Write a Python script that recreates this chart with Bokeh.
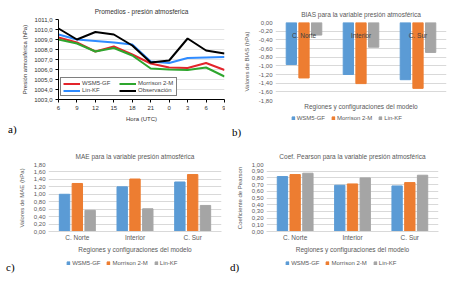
from bokeh.plotting import figure
from bokeh.models import (FactorRange, Range1d, FixedTicker, Legend, LegendItem,
                          ColumnDataSource, CategoricalAxis, Div, Spacer)
from bokeh.transform import dodge
from bokeh.layouts import column, row
from bokeh.embed import file_html
from bokeh.resources import INLINE

# ---------------- data ----------------
hours = ["6", "9", "12", "15", "18", "21", "0", "3", "6", "9"]
wsm5_gf = [1009.2, 1008.7, 1007.8, 1008.3, 1007.5, 1006.6, 1006.2, 1006.15, 1006.65, 1005.95]
morrison_2m = [1009.0, 1008.6, 1007.8, 1008.15, 1007.4, 1006.1, 1006.0, 1005.95, 1006.2, 1005.3]
lin_kf = [1009.5, 1009.0, 1008.85, 1008.7, 1008.5, 1006.8, 1006.65, 1007.15, 1007.2, 1007.25]
observacion = [1010.1, 1009.0, 1009.75, 1009.5, 1008.4, 1006.7, 1006.9, 1009.1, 1007.9, 1007.6]
press_ticks = [1003, 1004, 1005, 1006, 1007, 1008, 1009, 1010, 1011]

regions = ["C. Norte", "Interior", "C. Sur"]
bias_wsm5 = [-0.97, -1.20, -1.32]
bias_morr = [-1.28, -1.41, -1.52]
bias_lin = [-0.29, -0.57, -0.69]
mae_wsm5 = [1.00, 1.20, 1.33]
mae_morr = [1.29, 1.41, 1.53]
mae_lin = [0.57, 0.61, 0.70]
pear_wsm5 = [0.82, 0.69, 0.68]
pear_morr = [0.85, 0.71, 0.73]
pear_lin = [0.87, 0.80, 0.84]

bias_ticks = [0.0, -0.2, -0.4, -0.6, -0.8, -1.0, -1.2, -1.4, -1.6, -1.8]
mae_ticks = [0.0, 0.2, 0.4, 0.6, 0.8, 1.0, 1.2, 1.4, 1.6, 1.8]
pear_ticks = [0.0, 0.1, 0.2, 0.3, 0.4, 0.5, 0.6, 0.7, 0.8, 0.9, 1.0]

series_names = ["WSM5-GF", "Morrison 2-M", "Lin-KF", "Observación"]
xaxis_title = "Regiones y configuraciones del modelo"

# ---------------- style ----------------
FONT = "Liberation Sans"
SERIF = "Liberation Serif"
TXT = "#595959"
GRID = "#D9D9D9"
C_BLUE = "#5B9BD5"
C_ORANGE = "#ED7D31"
C_GRAY = "#A5A5A5"
BAR_W = 0.18
DODGE = 0.222


def fmt(v, d):
    return f"{v:.{d}f}".replace(".", ",")


def letter_div(text, width, height, pad_left, pad_top):
    return Div(text=text, width=width, height=height, margin=(0, 0, 0, 0),
               styles={"font-family": SERIF, "font-size": "11px",
                       "line-height": "11px", "padding-left": f"{pad_left}px",
                       "padding-top": f"{pad_top}px", "color": "#000000"})


def add_bars(p, v1, v2, v3):
    src = ColumnDataSource(dict(reg=regions, a=v1, b=v2, c=v3))
    r1 = p.vbar(x=dodge("reg", -DODGE, range=p.x_range), top="a", width=BAR_W,
                source=src, fill_color=C_BLUE, line_color=C_BLUE)
    r2 = p.vbar(x=dodge("reg", 0.0, range=p.x_range), top="b", width=BAR_W,
                source=src, fill_color=C_ORANGE, line_color=C_ORANGE)
    r3 = p.vbar(x=dodge("reg", DODGE, range=p.x_range), top="c", width=BAR_W,
                source=src, fill_color=C_GRAY, line_color=C_GRAY)
    return r1, r2, r3


def legend_fig(width, height, v1, v2, v3):
    # small strip that only shows the legend of the bar series
    f = figure(width=width, height=height, output_backend="svg",
               toolbar_location=None, x_range=FactorRange(factors=regions),
               y_range=Range1d(10, 11), x_axis_type=None, y_axis_type=None,
               min_border=0)
    f.outline_line_color = None
    rs = add_bars(f, v1, v2, v3)
    leg = Legend(items=[LegendItem(label=series_names[i], renderers=[rs[i]])
                        for i in range(3)],
                 orientation="horizontal", location="center",
                 label_text_font=FONT, label_text_font_size="6px",
                 label_text_color=TXT, glyph_width=4, glyph_height=4,
                 label_height=6, label_standoff=2, spacing=6, padding=1,
                 margin=0, border_line_color=None, background_fill_alpha=0)
    f.add_layout(leg, "center")
    return f


# ---------------- panel a ----------------
pa = figure(width=225, height=124, output_backend="svg", toolbar_location=None,
            x_range=Range1d(0, len(hours) - 1), y_range=Range1d(1003, 1011),
            min_border_left=58, min_border_right=1, min_border_top=16,
            min_border_bottom=22)
pa.title.text = "Promedios - presión atmosferica"
pa.title.text_font = FONT
pa.title.text_font_size = "6.5px"
pa.title.text_font_style = "normal"
pa.title.text_color = "#333333"
pa.title.align = "center"
pa.title.offset = -16
pa.outline_line_color = None
xs = list(range(len(hours)))
la = pa.line(xs, wsm5_gf, color="#E3242B", line_width=2)
lb = pa.line(xs, morrison_2m, color="#2EA62E", line_width=2)
lc = pa.line(xs, lin_kf, color="#2F8BFF", line_width=2)
ld = pa.line(xs, observacion, color="#000000", line_width=2)
pa.xaxis.ticker = FixedTicker(ticks=xs)
pa.xaxis.major_label_overrides = {i: h for i, h in enumerate(hours)}
pa.yaxis.ticker = FixedTicker(ticks=press_ticks)
pa.yaxis.major_label_overrides = {t: fmt(t, 1) for t in press_ticks}
pa.yaxis.axis_label = "Presión atmosférica (hPa)"
pa.xaxis.axis_label = "Hora (UTC)"
for ax in (pa.xaxis[0], pa.yaxis[0]):
    ax.major_label_text_font = FONT
    ax.major_label_text_font_size = "6px"
    ax.major_label_text_color = "#333333"
    ax.axis_label_text_font = FONT
    ax.axis_label_text_font_size = "6px"
    ax.axis_label_text_font_style = "normal"
    ax.axis_label_text_color = "#333333"
    ax.minor_tick_line_color = None
    ax.major_tick_out = 3
    ax.major_tick_in = 0
    ax.major_label_standoff = 3
    ax.axis_label_standoff = 3
pa.xgrid.grid_line_color = None
pa.ygrid.grid_line_color = "#E4E4E4"
leg_a = Legend(items=[LegendItem(label=series_names[0], renderers=[la]),
                      LegendItem(label=series_names[2], renderers=[lc]),
                      LegendItem(label=series_names[1], renderers=[lb]),
                      LegendItem(label=series_names[3], renderers=[ld])],
               ncols=2, location=(2, 3), label_text_font=FONT,
               label_text_font_size="6px", glyph_width=17, glyph_height=5,
               label_height=6, label_width=36, label_standoff=2, spacing=1,
               padding=2, margin=0, border_line_color="#000000",
               border_line_width=1)
pa.add_layout(leg_a, "center")


# ---------------- bar panels ----------------
def bar_panel(title, ylabel, v1, v2, v3, y0, y1, ticks, mbl, mbr, mbt, mbb,
              height, title_off, top_axis=False):
    p = figure(width=225, height=height, output_backend="svg",
               toolbar_location=None, x_range=FactorRange(factors=regions),
               y_range=Range1d(y0, y1), min_border_left=mbl,
               min_border_right=mbr, min_border_top=mbt, min_border_bottom=mbb)
    p.title.text = title
    p.title.text_font = FONT
    p.title.text_font_size = "6.5px"
    p.title.text_font_style = "normal"
    p.title.text_color = TXT
    p.title.align = "center"
    p.title.offset = title_off
    p.outline_line_color = None
    add_bars(p, v1, v2, v3)
    p.xgrid.grid_line_color = None
    p.ygrid.grid_line_color = GRID
    p.yaxis.ticker = FixedTicker(ticks=ticks)
    p.yaxis.major_label_overrides = {t: fmt(t, 2) for t in ticks}
    p.yaxis.axis_label = ylabel
    p.yaxis.axis_line_color = None
    p.yaxis.axis_label_standoff = 6
    for ax in (p.xaxis[0], p.yaxis[0]):
        ax.major_label_text_font = FONT
        ax.major_label_text_font_size = "6px"
        ax.major_label_text_color = TXT
        ax.axis_label_text_font = FONT
        ax.axis_label_text_font_size = "6px"
        ax.axis_label_text_font_style = "normal"
        ax.axis_label_text_color = TXT
        ax.minor_tick_line_color = None
        ax.major_tick_line_color = None
        ax.major_tick_out = 0
        ax.major_label_standoff = 3
    p.xaxis.axis_label = xaxis_title
    p.xaxis.axis_label_text_font_size = "6.5px"
    p.xaxis.axis_label_standoff = 2
    if top_axis:
        main = p.xaxis[0]
        main.major_label_text_font_size = "0px"
        main.major_label_text_color = None
        main.major_label_standoff = 0
        main.axis_label_standoff = 2
        main.axis_line_color = None
        cat_ax = CategoricalAxis(fixed_location=0, axis_line_color=None,
                                 major_tick_line_color=None,
                                 minor_tick_line_color=None,
                                 major_label_text_font=FONT,
                                 major_label_text_font_size="6.5px",
                                 major_label_text_color="#404040",
                                 major_label_standoff=3)
        p.add_layout(cat_ax, "below")
    else:
        p.xaxis.axis_line_color = GRID
        p.xaxis.major_label_text_font_size = "6.5px"
        p.xaxis.major_label_standoff = 2
    return p


pb = bar_panel("BIAS para la variable presión atmosférica", "Valores de BIAS (hPa)",
               bias_wsm5, bias_morr, bias_lin, -1.8, 0.0, bias_ticks,
               50, 4, 22, 10, 112, -6, top_axis=True)
pc = bar_panel("MAE para la variable presión atmosférica", "Valores de MAE (hPa)",
               mae_wsm5, mae_morr, mae_lin, 0.0, 1.8, mae_ticks,
               48, 4, 24, 20, 115, -10)
pd_ = bar_panel("Coef. Pearson para la variable presión atmosférica", "Coeficiente de Pearson",
                pear_wsm5, pear_morr, pear_lin, 0.0, 1.0, pear_ticks,
                41, 12, 24, 20, 115, -2)

top_left = column(pa, letter_div("a)", 225, 16, 8, 0))
top_right = column(pb,
                   row(Spacer(width=20, height=12),
                       legend_fig(205, 12, bias_wsm5, bias_morr, bias_lin)),
                   letter_div("b)", 225, 16, 7, 3))
bottom_left = column(pc, row(letter_div("c)", 30, 18, 6, 7),
                             legend_fig(186, 16, mae_wsm5, mae_morr, mae_lin)))
bottom_right = column(pd_, row(letter_div("d)", 25, 18, 5, 7),
                               legend_fig(184, 16, pear_wsm5, pear_morr, pear_lin)))

layout = column(row(top_left, top_right), row(bottom_left, bottom_right))
open("out.html", "w").write(file_html(layout, INLINE))
